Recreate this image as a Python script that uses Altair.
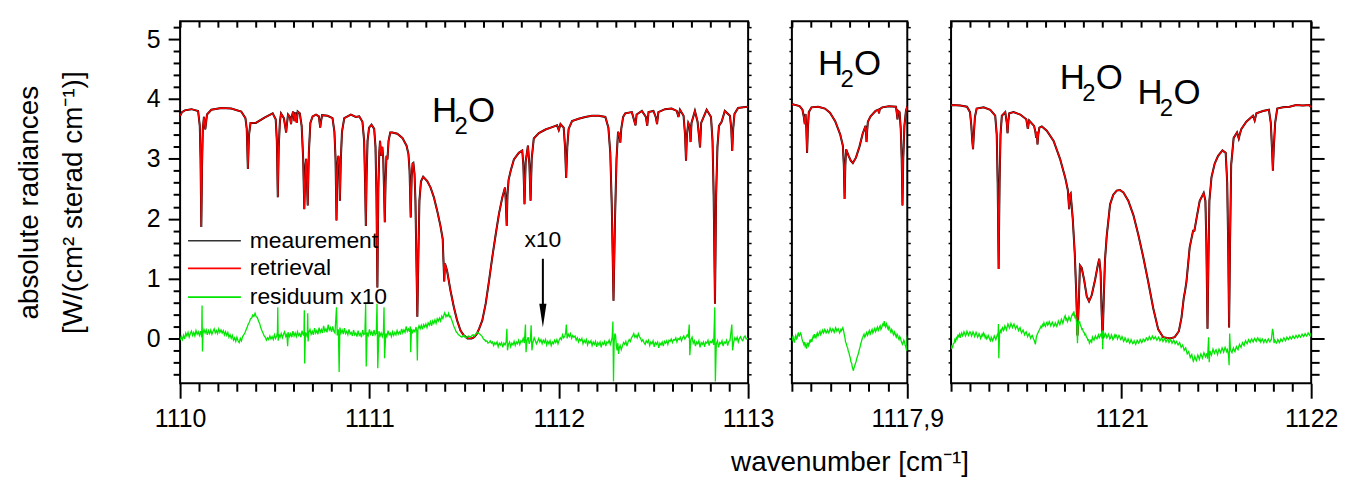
import altair as alt
import pandas as pd

FONT = "Liberation Sans"
RED = "#ff0000"
GREEN = "#00e600"
MEAS = "#000000"

# ---------------- spectra (wavenumber, radiance) ----------------
p1_spectrum = [
    (1110.000, 3.72), (1110.010, 3.78), (1110.025, 3.81), (1110.060, 3.83), (1110.095, 3.80),
    (1110.104, 3.55), (1110.108, 3.00), (1110.112, 1.86), (1110.116, 2.90), (1110.120, 3.50),
    (1110.126, 3.70), (1110.130, 3.58), (1110.133, 3.49), (1110.137, 3.60), (1110.142, 3.74),
    (1110.165, 3.82), (1110.218, 3.85), (1110.270, 3.84), (1110.323, 3.79), (1110.345, 3.68),
    (1110.352, 3.50), (1110.358, 2.83), (1110.364, 3.40), (1110.372, 3.60), (1110.400, 3.60),
    (1110.446, 3.69), (1110.489, 3.76), (1110.505, 3.66), (1110.511, 3.30), (1110.516, 2.36),
    (1110.521, 3.20), (1110.527, 3.62), (1110.533, 3.76), (1110.548, 3.68), (1110.556, 3.52),
    (1110.560, 3.44), (1110.565, 3.60), (1110.570, 3.74), (1110.580, 3.70), (1110.586, 3.58),
    (1110.591, 3.72), (1110.597, 3.79), (1110.604, 3.63), (1110.609, 3.78), (1110.616, 3.60),
    (1110.621, 3.79), (1110.632, 3.76), (1110.642, 3.55), (1110.650, 3.00), (1110.656, 2.16),
    (1110.662, 2.90), (1110.666, 3.00), (1110.674, 2.22), (1110.680, 3.10), (1110.688, 3.60),
    (1110.700, 3.71), (1110.718, 3.74), (1110.733, 3.71), (1110.737, 3.60), (1110.740, 3.52),
    (1110.744, 3.62), (1110.750, 3.73), (1110.779, 3.72), (1110.805, 3.68), (1110.815, 3.45),
    (1110.821, 3.00), (1110.826, 1.97), (1110.831, 2.90), (1110.836, 3.05), (1110.840, 2.90),
    (1110.844, 2.30), (1110.849, 3.00), (1110.855, 3.45), (1110.867, 3.68), (1110.902, 3.74),
    (1110.928, 3.70), (1110.946, 3.71), (1110.963, 3.62), (1110.972, 3.30), (1110.977, 2.60),
    (1110.981, 1.88), (1110.985, 2.70), (1110.990, 3.30), (1110.998, 3.52), (1111.011, 3.57),
    (1111.025, 3.50), (1111.032, 3.20), (1111.037, 2.40), (1111.042, 0.85), (1111.047, 2.50),
    (1111.052, 3.10), (1111.056, 3.30), (1111.062, 3.05), (1111.068, 3.20), (1111.073, 3.00),
    (1111.077, 2.50), (1111.081, 1.94), (1111.085, 2.60), (1111.090, 3.05), (1111.095, 2.99),
    (1111.101, 3.30), (1111.110, 3.44), (1111.121, 3.44), (1111.147, 3.42), (1111.174, 3.35),
    (1111.196, 3.22), (1111.206, 3.08), (1111.212, 2.80), (1111.218, 2.02), (1111.223, 2.70),
    (1111.228, 2.92), (1111.232, 2.93), (1111.238, 2.75), (1111.243, 2.30), (1111.248, 1.30),
    (1111.253, 0.36), (1111.258, 1.30), (1111.264, 2.30), (1111.272, 2.62), (1111.284, 2.70),
    (1111.305, 2.63), (1111.323, 2.52), (1111.340, 2.36), (1111.358, 2.13), (1111.375, 1.88),
    (1111.387, 1.66), (1111.391, 1.30), (1111.395, 0.95), (1111.399, 1.25), (1111.410, 1.13),
    (1111.428, 0.80), (1111.446, 0.52), (1111.463, 0.30), (1111.481, 0.13), (1111.498, 0.05),
    (1111.518, 0.00), (1111.540, 0.00), (1111.553, 0.02), (1111.566, 0.07), (1111.579, 0.16),
    (1111.596, 0.30), (1111.614, 0.58), (1111.632, 0.97), (1111.649, 1.36), (1111.667, 1.74),
    (1111.684, 2.08), (1111.702, 2.36), (1111.716, 2.52), (1111.720, 2.30), (1111.725, 1.88),
    (1111.729, 2.40), (1111.735, 2.65), (1111.746, 2.80), (1111.763, 2.99), (1111.789, 3.10),
    (1111.807, 3.14), (1111.813, 2.90), (1111.819, 2.24), (1111.825, 2.95), (1111.837, 3.22),
    (1111.845, 2.90), (1111.851, 2.30), (1111.857, 3.00), (1111.868, 3.34), (1111.895, 3.43),
    (1111.930, 3.49), (1111.965, 3.53), (1111.991, 3.56), (1112.000, 3.48), (1112.009, 3.58),
    (1112.026, 3.52), (1112.033, 3.20), (1112.039, 2.68), (1112.045, 3.20), (1112.052, 3.50),
    (1112.070, 3.63), (1112.105, 3.67), (1112.140, 3.70), (1112.175, 3.72), (1112.211, 3.72),
    (1112.246, 3.70), (1112.262, 3.52), (1112.272, 3.10), (1112.280, 2.20), (1112.289, 0.63),
    (1112.297, 2.00), (1112.305, 3.00), (1112.313, 3.45), (1112.320, 3.40), (1112.325, 3.27),
    (1112.330, 3.50), (1112.340, 3.70), (1112.351, 3.76), (1112.386, 3.78), (1112.400, 3.62),
    (1112.405, 3.56), (1112.411, 3.74), (1112.439, 3.80), (1112.460, 3.70), (1112.467, 3.55),
    (1112.474, 3.78), (1112.500, 3.80), (1112.512, 3.70), (1112.519, 3.58), (1112.526, 3.78),
    (1112.561, 3.83), (1112.596, 3.84), (1112.623, 3.80), (1112.632, 3.70), (1112.640, 3.82),
    (1112.659, 3.72), (1112.667, 3.40), (1112.672, 2.97), (1112.677, 3.40), (1112.684, 3.60),
    (1112.691, 3.55), (1112.696, 3.28), (1112.701, 3.60), (1112.719, 3.80), (1112.733, 3.62),
    (1112.740, 3.40), (1112.746, 3.19), (1112.752, 3.60), (1112.781, 3.82), (1112.804, 3.70),
    (1112.812, 3.30), (1112.818, 2.40), (1112.825, 0.58), (1112.831, 2.40), (1112.838, 3.20),
    (1112.846, 3.55), (1112.860, 3.62), (1112.877, 3.80), (1112.904, 3.72), (1112.911, 3.50),
    (1112.916, 3.13), (1112.921, 3.50), (1112.928, 3.75), (1112.947, 3.85), (1112.974, 3.86),
    (1113.000, 3.87),
]

p2_spectrum = [
    (1117.300, 3.90), (1117.305, 3.91), (1117.340, 3.88), (1117.355, 3.82), (1117.362, 3.70),
    (1117.367, 3.58), (1117.371, 3.75), (1117.375, 3.50), (1117.379, 3.10), (1117.383, 3.50),
    (1117.388, 3.78), (1117.402, 3.86), (1117.437, 3.87), (1117.472, 3.84), (1117.498, 3.77),
    (1117.525, 3.63), (1117.551, 3.41), (1117.565, 3.22), (1117.570, 2.90), (1117.574, 2.33),
    (1117.578, 2.90), (1117.582, 3.16), (1117.595, 3.05), (1117.606, 2.97), (1117.617, 2.93),
    (1117.633, 3.02), (1117.651, 3.20), (1117.668, 3.42), (1117.683, 3.55), (1117.686, 3.40),
    (1117.688, 3.28), (1117.691, 3.45), (1117.695, 3.62), (1117.709, 3.71), (1117.735, 3.80),
    (1117.750, 3.82), (1117.753, 3.76), (1117.757, 3.83), (1117.770, 3.86), (1117.805, 3.88),
    (1117.841, 3.87), (1117.846, 3.75), (1117.849, 3.66), (1117.853, 3.80), (1117.860, 3.78),
    (1117.866, 3.50), (1117.871, 3.00), (1117.875, 2.22), (1117.879, 3.00), (1117.885, 3.55),
    (1117.893, 3.80), (1117.900, 3.88),
]

p3_spectrum = [
    (1120.100, 3.89), (1120.105, 3.90), (1120.149, 3.89), (1120.184, 3.87), (1120.200, 3.78),
    (1120.207, 3.55), (1120.212, 3.30), (1120.216, 3.16), (1120.220, 3.40), (1120.226, 3.70),
    (1120.235, 3.84), (1120.272, 3.86), (1120.307, 3.82), (1120.333, 3.72), (1120.341, 3.40),
    (1120.346, 2.60), (1120.351, 1.16), (1120.356, 2.60), (1120.361, 3.40), (1120.368, 3.72),
    (1120.386, 3.78), (1120.394, 3.60), (1120.398, 3.43), (1120.402, 3.62), (1120.407, 3.76),
    (1120.430, 3.78), (1120.465, 3.74), (1120.497, 3.66), (1120.505, 3.50), (1120.512, 3.64),
    (1120.538, 3.55), (1120.545, 3.45), (1120.549, 3.35), (1120.553, 3.45), (1120.556, 3.24),
    (1120.560, 3.40), (1120.566, 3.52), (1120.579, 3.54), (1120.605, 3.47), (1120.641, 3.30),
    (1120.675, 3.00), (1120.702, 2.69), (1120.716, 2.48), (1120.720, 2.30), (1120.723, 2.16),
    (1120.727, 2.40), (1120.731, 2.42), (1120.742, 2.00), (1120.753, 1.40), (1120.760, 0.80),
    (1120.767, 0.05), (1120.774, 0.60), (1120.780, 1.22), (1120.789, 1.18), (1120.802, 0.98),
    (1120.816, 0.70), (1120.828, 0.62), (1120.842, 0.72), (1120.860, 0.98), (1120.874, 1.22),
    (1120.882, 1.33), (1120.889, 1.10), (1120.895, 0.40), (1120.900, 0.00), (1120.905, 0.60),
    (1120.912, 1.30), (1120.921, 1.70), (1120.939, 2.24), (1120.956, 2.40), (1120.974, 2.47),
    (1120.991, 2.48), (1121.009, 2.44), (1121.035, 2.30), (1121.062, 2.06), (1121.088, 1.73),
    (1121.114, 1.36), (1121.140, 0.95), (1121.167, 0.50), (1121.193, 0.15), (1121.219, 0.02),
    (1121.254, 0.00), (1121.280, 0.02), (1121.302, 0.12), (1121.316, 0.35), (1121.328, 0.68),
    (1121.335, 0.80), (1121.342, 0.95), (1121.359, 1.52), (1121.377, 1.80), (1121.384, 1.80),
    (1121.395, 2.00), (1121.412, 2.30), (1121.433, 2.43), (1121.442, 2.30), (1121.447, 1.60),
    (1121.453, 0.16), (1121.458, 1.30), (1121.463, 2.30), (1121.474, 2.69), (1121.491, 2.92),
    (1121.509, 3.05), (1121.532, 3.14), (1121.549, 3.10), (1121.557, 2.60), (1121.562, 1.60),
    (1121.567, 0.18), (1121.572, 1.60), (1121.578, 2.90), (1121.591, 3.35), (1121.609, 3.44),
    (1121.618, 3.34), (1121.624, 3.42), (1121.632, 3.50), (1121.658, 3.62), (1121.693, 3.72),
    (1121.702, 3.64), (1121.711, 3.76), (1121.746, 3.80), (1121.777, 3.82), (1121.787, 3.60),
    (1121.793, 3.20), (1121.798, 2.80), (1121.803, 3.20), (1121.810, 3.60), (1121.821, 3.84),
    (1121.851, 3.86), (1121.886, 3.87), (1121.921, 3.90), (1121.956, 3.89), (1121.990, 3.90),
    (1122.000, 3.86),
]

# ---------------- residuum x10 (wavenumber, value) ----------------
p1_residual = [
    (1110.000, -0.03), (1110.006, 0.03), (1110.012, -0.02), (1110.018, 0.05), (1110.024, -0.01),
    (1110.030, 0.09), (1110.036, 0.04), (1110.042, 0.10), (1110.048, 0.02), (1110.054, 0.08),
    (1110.060, 0.12), (1110.066, 0.05), (1110.072, 0.10), (1110.078, 0.04), (1110.084, 0.13),
    (1110.090, 0.07), (1110.096, 0.11), (1110.102, 0.05), (1110.108, 0.12), (1110.114, 0.02),
    (1110.116, 0.55), (1110.118, -0.22), (1110.121, 0.08), (1110.126, 0.15), (1110.132, 0.09),
    (1110.138, 0.14), (1110.144, 0.06), (1110.150, 0.13), (1110.156, 0.08), (1110.162, 0.14),
    (1110.168, 0.07), (1110.174, 0.12), (1110.180, 0.16), (1110.186, 0.09), (1110.192, 0.13),
    (1110.198, 0.08), (1110.204, 0.16), (1110.210, 0.10), (1110.216, 0.14), (1110.222, 0.09),
    (1110.228, 0.13), (1110.234, 0.06), (1110.240, 0.11), (1110.246, 0.05), (1110.252, 0.10),
    (1110.258, 0.02), (1110.264, 0.06), (1110.270, 0.00), (1110.276, 0.05), (1110.282, -0.03),
    (1110.288, 0.01), (1110.294, -0.05), (1110.300, 0.02), (1110.306, -0.04), (1110.312, -0.07),
    (1110.318, 0.00), (1110.324, -0.04), (1110.330, 0.03), (1110.336, 0.06), (1110.342, 0.09),
    (1110.348, 0.14), (1110.354, 0.18), (1110.360, 0.24), (1110.366, 0.27), (1110.372, 0.33),
    (1110.378, 0.34), (1110.384, 0.39), (1110.390, 0.37), (1110.396, 0.42), (1110.402, 0.36),
    (1110.408, 0.35), (1110.414, 0.29), (1110.420, 0.25), (1110.426, 0.18), (1110.432, 0.13),
    (1110.438, 0.09), (1110.444, 0.04), (1110.450, 0.02), (1110.456, -0.03), (1110.462, 0.01),
    (1110.468, -0.02), (1110.474, 0.04), (1110.480, -0.01), (1110.486, 0.03), (1110.492, -0.02),
    (1110.498, 0.06), (1110.504, 0.00), (1110.510, 0.04), (1110.514, 0.10), (1110.516, 0.52),
    (1110.518, -0.04), (1110.522, 0.07), (1110.528, 0.02), (1110.534, 0.08), (1110.540, 0.01),
    (1110.546, 0.07), (1110.552, 0.11), (1110.558, 0.03), (1110.564, 0.07), (1110.568, -0.13),
    (1110.572, 0.10), (1110.578, 0.03), (1110.584, 0.08), (1110.590, 0.02), (1110.596, 0.12),
    (1110.602, 0.04), (1110.608, 0.09), (1110.614, 0.03), (1110.620, 0.11), (1110.626, 0.05),
    (1110.632, 0.08), (1110.638, 0.02), (1110.644, 0.13), (1110.650, 0.06), (1110.654, 0.05),
    (1110.656, 0.47), (1110.658, -0.42), (1110.662, 0.10), (1110.668, 0.06), (1110.672, 0.02),
    (1110.674, 0.42), (1110.676, -0.05), (1110.680, 0.10), (1110.686, 0.15), (1110.692, 0.07),
    (1110.698, 0.12), (1110.704, 0.06), (1110.710, 0.17), (1110.716, 0.09), (1110.722, 0.13),
    (1110.728, 0.07), (1110.734, 0.18), (1110.740, 0.10), (1110.746, 0.15), (1110.752, 0.09),
    (1110.758, 0.21), (1110.764, 0.12), (1110.770, 0.16), (1110.776, 0.10), (1110.782, 0.23),
    (1110.788, 0.14), (1110.794, 0.18), (1110.800, 0.11), (1110.806, 0.20), (1110.812, 0.12),
    (1110.818, 0.09), (1110.826, 0.52), (1110.830, 0.05), (1110.836, 0.15), (1110.840, -0.56),
    (1110.844, 0.18), (1110.850, 0.09), (1110.856, 0.14), (1110.862, 0.07), (1110.868, 0.17),
    (1110.874, 0.08), (1110.880, 0.12), (1110.886, 0.06), (1110.892, 0.15), (1110.898, 0.07),
    (1110.904, 0.10), (1110.910, 0.04), (1110.916, 0.14), (1110.922, 0.06), (1110.928, 0.09),
    (1110.934, 0.03), (1110.940, 0.13), (1110.946, 0.05), (1110.952, 0.08), (1110.958, 0.02),
    (1110.964, 0.14), (1110.970, 0.06), (1110.976, 0.08), (1110.980, 0.58), (1110.983, -0.47),
    (1110.988, 0.10), (1110.994, 0.05), (1111.000, 0.15), (1111.006, 0.07), (1111.012, 0.11),
    (1111.018, 0.04), (1111.024, 0.14), (1111.030, 0.06), (1111.036, 0.09), (1111.040, 0.58),
    (1111.044, -0.50), (1111.050, 0.12), (1111.056, 0.04), (1111.062, 0.09), (1111.068, 0.03),
    (1111.074, 0.11), (1111.077, 0.52), (1111.080, -0.33), (1111.086, 0.08), (1111.092, 0.03),
    (1111.098, 0.13), (1111.104, 0.06), (1111.110, 0.09), (1111.116, 0.03), (1111.122, 0.11),
    (1111.128, 0.05), (1111.134, 0.10), (1111.140, 0.06), (1111.146, 0.13), (1111.152, 0.07),
    (1111.158, 0.11), (1111.164, 0.08), (1111.170, 0.16), (1111.176, 0.09), (1111.182, 0.14),
    (1111.188, 0.10), (1111.194, 0.20), (1111.200, 0.12), (1111.206, 0.16), (1111.212, 0.11),
    (1111.216, 0.20), (1111.218, -0.23), (1111.222, 0.16), (1111.228, 0.10), (1111.234, 0.14),
    (1111.240, 0.11), (1111.246, 0.19), (1111.250, 0.12), (1111.253, -0.37), (1111.256, 0.15),
    (1111.262, 0.21), (1111.268, 0.16), (1111.274, 0.22), (1111.280, 0.15), (1111.286, 0.23),
    (1111.292, 0.19), (1111.298, 0.24), (1111.304, 0.18), (1111.310, 0.26), (1111.316, 0.22),
    (1111.322, 0.28), (1111.328, 0.21), (1111.334, 0.29), (1111.340, 0.25), (1111.346, 0.31),
    (1111.352, 0.25), (1111.358, 0.33), (1111.364, 0.29), (1111.370, 0.34), (1111.376, 0.29),
    (1111.382, 0.37), (1111.388, 0.33), (1111.394, 0.40), (1111.398, 0.43), (1111.404, 0.36),
    (1111.408, 0.39), (1111.414, 0.37), (1111.418, 0.42), (1111.424, 0.36), (1111.428, 0.37),
    (1111.434, 0.31), (1111.440, 0.26), (1111.446, 0.20), (1111.452, 0.16), (1111.458, 0.11),
    (1111.464, 0.09), (1111.470, 0.06), (1111.476, 0.05), (1111.482, 0.03), (1111.488, 0.02),
    (1111.494, 0.04), (1111.500, 0.05), (1111.506, 0.02), (1111.512, 0.01), (1111.518, 0.03),
    (1111.524, 0.04), (1111.530, 0.02), (1111.536, 0.03), (1111.542, 0.05), (1111.548, 0.06),
    (1111.554, 0.04), (1111.560, 0.07), (1111.566, 0.09), (1111.572, 0.10), (1111.578, 0.08),
    (1111.584, 0.07), (1111.590, 0.05), (1111.596, 0.03), (1111.602, -0.01), (1111.608, -0.02),
    (1111.614, -0.05), (1111.620, -0.04), (1111.626, -0.08), (1111.632, -0.07), (1111.638, -0.04),
    (1111.644, -0.08), (1111.650, -0.06), (1111.656, -0.12), (1111.662, -0.07), (1111.668, -0.10),
    (1111.674, -0.06), (1111.680, -0.14), (1111.686, -0.08), (1111.692, -0.11), (1111.698, -0.07),
    (1111.704, -0.15), (1111.710, -0.08), (1111.716, -0.11), (1111.722, -0.05), (1111.726, 0.16),
    (1111.729, -0.20), (1111.734, -0.10), (1111.740, -0.06), (1111.746, -0.14), (1111.752, -0.08),
    (1111.758, -0.11), (1111.764, -0.05), (1111.770, -0.12), (1111.776, -0.06), (1111.782, -0.09),
    (1111.788, -0.03), (1111.794, -0.10), (1111.800, -0.04), (1111.806, -0.06), (1111.812, 0.00),
    (1111.818, -0.08), (1111.824, 0.23), (1111.827, -0.23), (1111.832, -0.04), (1111.838, 0.02),
    (1111.844, -0.09), (1111.850, -0.03), (1111.854, 0.22), (1111.858, -0.20), (1111.864, -0.06),
    (1111.870, 0.01), (1111.876, -0.04), (1111.882, -0.09), (1111.888, -0.05), (1111.894, 0.00),
    (1111.900, -0.06), (1111.906, -0.02), (1111.912, -0.09), (1111.918, -0.03), (1111.924, -0.07),
    (1111.930, -0.02), (1111.936, -0.11), (1111.942, -0.05), (1111.948, -0.09), (1111.954, -0.04),
    (1111.960, -0.12), (1111.966, -0.06), (1111.972, -0.09), (1111.978, -0.03), (1111.984, -0.07),
    (1111.990, -0.02), (1111.996, -0.09), (1112.002, -0.03), (1112.008, 0.01), (1112.014, -0.02),
    (1112.020, 0.06), (1112.026, 0.01), (1112.032, 0.04), (1112.036, 0.09), (1112.040, 0.23),
    (1112.044, 0.00), (1112.050, 0.07), (1112.056, 0.03), (1112.062, 0.08), (1112.068, 0.00),
    (1112.074, 0.05), (1112.080, 0.02), (1112.086, 0.04), (1112.092, -0.03), (1112.098, 0.01),
    (1112.104, -0.06), (1112.110, -0.01), (1112.116, -0.04), (1112.122, 0.00), (1112.128, -0.09),
    (1112.134, -0.03), (1112.140, -0.07), (1112.146, -0.02), (1112.152, -0.11), (1112.158, -0.05),
    (1112.164, -0.08), (1112.170, -0.04), (1112.176, -0.12), (1112.182, -0.06), (1112.188, -0.10),
    (1112.194, -0.05), (1112.200, -0.14), (1112.206, -0.07), (1112.212, -0.11), (1112.218, -0.06),
    (1112.224, -0.15), (1112.230, -0.07), (1112.236, -0.10), (1112.242, -0.05), (1112.248, -0.13),
    (1112.254, -0.06), (1112.260, -0.08), (1112.266, -0.03), (1112.272, -0.10), (1112.278, -0.04),
    (1112.282, 0.02), (1112.286, 0.28), (1112.289, -0.72), (1112.292, -0.10), (1112.296, 0.08),
    (1112.300, 0.05), (1112.304, -0.12), (1112.308, -0.20), (1112.312, -0.08), (1112.316, -0.26),
    (1112.320, -0.15), (1112.324, -0.12), (1112.330, -0.19), (1112.336, -0.13), (1112.342, -0.07),
    (1112.348, -0.10), (1112.354, -0.05), (1112.360, -0.13), (1112.366, -0.06), (1112.372, -0.02),
    (1112.378, -0.05), (1112.384, 0.01), (1112.390, 0.04), (1112.396, 0.08), (1112.402, 0.02),
    (1112.408, 0.05), (1112.414, 0.01), (1112.420, 0.08), (1112.426, 0.03), (1112.432, 0.00),
    (1112.438, -0.05), (1112.444, -0.02), (1112.450, -0.07), (1112.456, -0.10), (1112.462, -0.04),
    (1112.468, -0.07), (1112.474, -0.03), (1112.480, -0.12), (1112.486, -0.06), (1112.492, -0.09),
    (1112.498, -0.04), (1112.504, -0.14), (1112.510, -0.07), (1112.516, -0.10), (1112.522, -0.06),
    (1112.528, -0.16), (1112.534, -0.08), (1112.540, -0.11), (1112.546, -0.06), (1112.552, -0.13),
    (1112.558, -0.05), (1112.564, -0.08), (1112.570, -0.04), (1112.576, -0.10), (1112.582, -0.03),
    (1112.588, -0.05), (1112.594, -0.01), (1112.600, -0.07), (1112.606, -0.02), (1112.612, -0.03),
    (1112.618, 0.01), (1112.624, -0.06), (1112.630, 0.00), (1112.636, -0.02), (1112.642, 0.02),
    (1112.648, -0.04), (1112.654, 0.01), (1112.660, 0.04), (1112.666, -0.01), (1112.672, 0.02),
    (1112.678, 0.06), (1112.684, 0.03), (1112.689, 0.23), (1112.692, -0.28), (1112.698, -0.02),
    (1112.704, 0.02), (1112.710, -0.08), (1112.716, -0.04), (1112.722, -0.13), (1112.728, -0.06),
    (1112.734, -0.09), (1112.740, -0.04), (1112.746, -0.15), (1112.752, -0.07), (1112.758, -0.10),
    (1112.764, -0.06), (1112.770, -0.14), (1112.776, -0.06), (1112.782, -0.08), (1112.788, -0.03),
    (1112.794, -0.12), (1112.800, -0.05), (1112.806, -0.07), (1112.812, -0.03), (1112.818, -0.11),
    (1112.824, 0.52), (1112.827, -0.72), (1112.832, -0.09), (1112.838, -0.04), (1112.844, -0.15),
    (1112.850, -0.07), (1112.856, -0.09), (1112.862, -0.04), (1112.868, -0.13), (1112.874, -0.06),
    (1112.880, -0.08), (1112.886, -0.03), (1112.892, -0.12), (1112.898, -0.05), (1112.904, -0.04),
    (1112.914, 0.23), (1112.918, -0.20), (1112.924, -0.06), (1112.930, 0.01), (1112.936, -0.03),
    (1112.942, 0.02), (1112.948, -0.06), (1112.954, 0.00), (1112.960, 0.03), (1112.966, -0.02),
    (1112.972, -0.04), (1112.978, 0.02), (1112.984, 0.04), (1112.990, -0.01), (1113.000, 0.00),
]

p2_residual = [
    (1117.300, -0.05), (1117.303, 0.01), (1117.306, 0.03), (1117.310, -0.04), (1117.313, -0.07),
    (1117.317, 0.02), (1117.320, 0.05), (1117.324, -0.01), (1117.327, 0.00), (1117.331, 0.07),
    (1117.334, 0.10), (1117.338, 0.03), (1117.341, 0.06), (1117.345, 0.09), (1117.348, 0.07),
    (1117.352, 0.00), (1117.355, -0.04), (1117.359, -0.07), (1117.362, -0.10), (1117.366, -0.06),
    (1117.369, -0.13), (1117.373, -0.10), (1117.376, -0.17), (1117.380, -0.11), (1117.383, -0.07),
    (1117.387, -0.12), (1117.390, -0.09), (1117.394, -0.02), (1117.397, -0.05), (1117.401, -0.01),
    (1117.404, -0.06), (1117.408, 0.01), (1117.411, 0.04), (1117.415, 0.00), (1117.418, 0.07),
    (1117.422, 0.03), (1117.425, 0.01), (1117.429, 0.06), (1117.432, 0.09), (1117.436, 0.04),
    (1117.439, 0.06), (1117.443, 0.10), (1117.446, 0.12), (1117.450, 0.06), (1117.453, 0.08),
    (1117.457, 0.12), (1117.460, 0.14), (1117.464, 0.09), (1117.467, 0.11), (1117.471, 0.15),
    (1117.474, 0.13), (1117.478, 0.09), (1117.481, 0.10), (1117.485, 0.14), (1117.488, 0.12),
    (1117.492, 0.09), (1117.495, 0.12), (1117.499, 0.17), (1117.502, 0.15), (1117.506, 0.11),
    (1117.509, 0.13), (1117.513, 0.16), (1117.516, 0.14), (1117.520, 0.10), (1117.523, 0.12),
    (1117.527, 0.18), (1117.530, 0.16), (1117.534, 0.12), (1117.537, 0.14), (1117.541, 0.16),
    (1117.544, 0.13), (1117.548, 0.09), (1117.551, 0.11), (1117.555, 0.15), (1117.558, 0.13),
    (1117.562, 0.16), (1117.565, 0.18), (1117.569, 0.12), (1117.572, 0.07), (1117.576, 0.01),
    (1117.579, -0.06), (1117.583, -0.09), (1117.586, -0.13), (1117.590, -0.16), (1117.593, -0.21),
    (1117.597, -0.24), (1117.600, -0.29), (1117.604, -0.33), (1117.607, -0.39), (1117.611, -0.42),
    (1117.614, -0.48), (1117.617, -0.51), (1117.620, -0.54), (1117.623, -0.49), (1117.626, -0.47),
    (1117.630, -0.42), (1117.633, -0.40), (1117.637, -0.34), (1117.640, -0.31), (1117.644, -0.27),
    (1117.647, -0.24), (1117.651, -0.18), (1117.654, -0.15), (1117.658, -0.09), (1117.661, -0.06),
    (1117.665, -0.01), (1117.668, 0.01), (1117.672, 0.05), (1117.675, 0.07), (1117.679, 0.02),
    (1117.682, 0.04), (1117.686, 0.08), (1117.689, 0.10), (1117.693, 0.05), (1117.696, 0.07),
    (1117.700, 0.11), (1117.703, 0.13), (1117.707, 0.07), (1117.710, 0.09), (1117.714, 0.13),
    (1117.717, 0.15), (1117.721, 0.09), (1117.724, 0.11), (1117.728, 0.15), (1117.731, 0.17),
    (1117.735, 0.11), (1117.738, 0.13), (1117.742, 0.17), (1117.745, 0.19), (1117.749, 0.13),
    (1117.752, 0.15), (1117.756, 0.19), (1117.759, 0.21), (1117.763, 0.15), (1117.766, 0.17),
    (1117.770, 0.21), (1117.773, 0.24), (1117.777, 0.22), (1117.780, 0.29), (1117.784, 0.21),
    (1117.787, 0.19), (1117.791, 0.25), (1117.794, 0.23), (1117.798, 0.17), (1117.801, 0.15),
    (1117.805, 0.20), (1117.808, 0.18), (1117.812, 0.12), (1117.815, 0.10), (1117.819, 0.15),
    (1117.822, 0.13), (1117.826, 0.08), (1117.829, 0.06), (1117.833, 0.11), (1117.836, 0.09),
    (1117.840, 0.04), (1117.843, 0.02), (1117.847, 0.07), (1117.850, 0.05), (1117.854, 0.00),
    (1117.857, -0.02), (1117.861, 0.03), (1117.864, 0.01), (1117.868, -0.04), (1117.871, -0.07),
    (1117.875, -0.10), (1117.878, -0.08), (1117.882, -0.03), (1117.885, -0.05), (1117.889, -0.11),
    (1117.892, -0.14), (1117.895, -0.18), (1117.897, -0.21), (1117.900, 0.05),
]

p3_residual = [
    (1120.100, -0.18), (1120.104, -0.13), (1120.108, -0.15), (1120.112, -0.09), (1120.116, -0.08),
    (1120.120, -0.02), (1120.124, -0.05), (1120.128, 0.01), (1120.132, -0.01), (1120.136, 0.05),
    (1120.140, 0.03), (1120.144, 0.07), (1120.148, 0.01), (1120.152, 0.06), (1120.156, 0.09),
    (1120.160, 0.04), (1120.164, 0.06), (1120.168, 0.11), (1120.172, 0.08), (1120.176, 0.04),
    (1120.180, 0.07), (1120.184, 0.12), (1120.188, 0.09), (1120.192, 0.05), (1120.196, 0.08),
    (1120.200, 0.11), (1120.204, 0.09), (1120.208, 0.04), (1120.212, 0.07), (1120.216, 0.11),
    (1120.220, 0.08), (1120.224, 0.03), (1120.228, 0.06), (1120.232, 0.10), (1120.236, 0.07),
    (1120.240, 0.02), (1120.244, 0.04), (1120.248, 0.08), (1120.252, 0.05), (1120.256, 0.00),
    (1120.260, 0.03), (1120.264, 0.07), (1120.268, 0.04), (1120.272, 0.09), (1120.276, 0.06),
    (1120.280, 0.01), (1120.284, 0.04), (1120.288, -0.01), (1120.292, 0.01), (1120.296, 0.05),
    (1120.300, 0.02), (1120.304, -0.02), (1120.308, -0.04), (1120.312, 0.02), (1120.316, -0.01),
    (1120.320, -0.04), (1120.324, 0.00), (1120.328, 0.04), (1120.332, 0.01), (1120.336, -0.02),
    (1120.340, 0.02), (1120.344, 0.06), (1120.348, 0.03), (1120.350, 0.24), (1120.352, -0.33),
    (1120.356, 0.08), (1120.360, 0.13), (1120.364, 0.10), (1120.368, 0.16), (1120.372, 0.18),
    (1120.376, 0.13), (1120.380, 0.15), (1120.384, 0.21), (1120.388, 0.18), (1120.392, 0.14),
    (1120.396, 0.19), (1120.400, 0.24), (1120.404, 0.21), (1120.408, 0.17), (1120.412, 0.20),
    (1120.416, 0.25), (1120.420, 0.22), (1120.424, 0.18), (1120.428, 0.21), (1120.432, 0.24),
    (1120.436, 0.20), (1120.440, 0.16), (1120.444, 0.19), (1120.448, 0.21), (1120.452, 0.17),
    (1120.456, 0.13), (1120.460, 0.16), (1120.464, 0.18), (1120.468, 0.13), (1120.472, 0.09),
    (1120.476, 0.12), (1120.480, 0.14), (1120.484, 0.10), (1120.488, 0.06), (1120.492, 0.09),
    (1120.496, 0.11), (1120.500, 0.07), (1120.504, 0.03), (1120.508, 0.06), (1120.512, 0.08),
    (1120.516, 0.04), (1120.520, 0.00), (1120.524, 0.03), (1120.528, 0.05), (1120.532, 0.02),
    (1120.536, -0.02), (1120.540, -0.04), (1120.545, -0.10), (1120.550, 0.02), (1120.554, 0.06),
    (1120.558, 0.09), (1120.562, 0.12), (1120.566, 0.14), (1120.570, 0.17), (1120.574, 0.20),
    (1120.578, 0.18), (1120.582, 0.23), (1120.586, 0.21), (1120.590, 0.26), (1120.594, 0.22),
    (1120.598, 0.20), (1120.602, 0.25), (1120.606, 0.27), (1120.610, 0.22), (1120.614, 0.24),
    (1120.618, 0.28), (1120.622, 0.25), (1120.626, 0.21), (1120.630, 0.24), (1120.634, 0.27),
    (1120.638, 0.24), (1120.642, 0.20), (1120.646, 0.22), (1120.650, 0.26), (1120.654, 0.23),
    (1120.658, 0.20), (1120.662, 0.24), (1120.666, 0.29), (1120.670, 0.26), (1120.674, 0.23),
    (1120.678, 0.27), (1120.682, 0.32), (1120.686, 0.29), (1120.690, 0.25), (1120.694, 0.30),
    (1120.698, 0.35), (1120.702, 0.38), (1120.706, 0.31), (1120.710, 0.33), (1120.714, 0.28),
    (1120.718, 0.31), (1120.722, 0.36), (1120.726, 0.33), (1120.730, 0.30), (1120.734, 0.35),
    (1120.738, 0.39), (1120.742, 0.41), (1120.745, 0.38), (1120.748, 0.45), (1120.751, 0.39),
    (1120.754, 0.35), (1120.757, 0.37), (1120.760, 0.32), (1120.764, 0.20), (1120.767, -0.08),
    (1120.770, 0.18), (1120.773, 0.30), (1120.776, 0.26), (1120.779, 0.27), (1120.782, 0.22),
    (1120.786, 0.20), (1120.790, 0.15), (1120.794, 0.16), (1120.798, 0.11), (1120.802, 0.10),
    (1120.806, 0.06), (1120.810, 0.07), (1120.814, 0.02), (1120.818, 0.01), (1120.822, -0.03),
    (1120.826, -0.02), (1120.830, -0.08), (1120.834, -0.05), (1120.838, -0.03), (1120.842, -0.06),
    (1120.846, 0.02), (1120.850, -0.01), (1120.854, -0.03), (1120.858, 0.01), (1120.862, 0.04),
    (1120.866, 0.00), (1120.870, -0.01), (1120.874, 0.03), (1120.878, 0.06), (1120.882, 0.01),
    (1120.886, 0.03), (1120.890, 0.07), (1120.894, 0.09), (1120.898, 0.11), (1120.900, -0.18),
    (1120.903, 0.13), (1120.906, 0.06), (1120.910, 0.03), (1120.914, 0.08), (1120.918, 0.06),
    (1120.922, 0.01), (1120.926, 0.03), (1120.930, 0.07), (1120.934, 0.04), (1120.938, -0.01),
    (1120.942, 0.01), (1120.946, 0.06), (1120.950, 0.03), (1120.954, -0.02), (1120.958, 0.00),
    (1120.962, 0.05), (1120.966, 0.02), (1120.970, 0.06), (1120.974, 0.04), (1120.978, -0.01),
    (1120.982, 0.02), (1120.986, 0.05), (1120.990, 0.03), (1120.994, -0.02), (1120.998, -0.01),
    (1121.002, 0.03), (1121.006, 0.00), (1121.010, -0.05), (1121.014, -0.03), (1121.018, 0.01),
    (1121.022, -0.02), (1121.026, -0.06), (1121.030, -0.05), (1121.034, -0.01), (1121.038, -0.04),
    (1121.042, -0.08), (1121.046, -0.06), (1121.050, -0.02), (1121.054, -0.05), (1121.058, -0.09),
    (1121.062, -0.08), (1121.066, -0.04), (1121.070, -0.07), (1121.074, -0.10), (1121.078, -0.07),
    (1121.082, -0.03), (1121.086, -0.05), (1121.090, -0.08), (1121.094, -0.06), (1121.098, -0.02),
    (1121.102, -0.04), (1121.106, -0.07), (1121.110, -0.05), (1121.114, -0.01), (1121.118, -0.02),
    (1121.122, -0.05), (1121.126, -0.03), (1121.130, 0.01), (1121.134, 0.00), (1121.138, -0.03),
    (1121.142, -0.01), (1121.146, 0.03), (1121.150, 0.01), (1121.154, -0.02), (1121.158, 0.00),
    (1121.162, 0.04), (1121.166, 0.02), (1121.170, -0.01), (1121.174, 0.01), (1121.178, 0.03),
    (1121.182, 0.00), (1121.186, -0.03), (1121.190, -0.01), (1121.194, 0.02), (1121.198, 0.00),
    (1121.202, -0.04), (1121.206, -0.02), (1121.210, 0.01), (1121.214, -0.01), (1121.218, -0.05),
    (1121.222, -0.03), (1121.226, 0.00), (1121.230, -0.02), (1121.234, -0.06), (1121.238, -0.04),
    (1121.242, -0.01), (1121.246, -0.03), (1121.250, -0.07), (1121.254, -0.05), (1121.258, -0.02),
    (1121.262, -0.04), (1121.266, -0.08), (1121.270, -0.06), (1121.274, -0.03), (1121.278, -0.05),
    (1121.282, -0.09), (1121.286, -0.07), (1121.290, -0.05), (1121.294, -0.08), (1121.298, -0.11),
    (1121.302, -0.09), (1121.306, -0.07), (1121.310, -0.11), (1121.314, -0.15), (1121.318, -0.13),
    (1121.322, -0.11), (1121.326, -0.15), (1121.330, -0.20), (1121.334, -0.18), (1121.338, -0.16),
    (1121.342, -0.21), (1121.346, -0.26), (1121.350, -0.24), (1121.354, -0.22), (1121.358, -0.27),
    (1121.362, -0.32), (1121.366, -0.29), (1121.370, -0.27), (1121.374, -0.33), (1121.378, -0.38),
    (1121.382, -0.35), (1121.386, -0.30), (1121.390, -0.34), (1121.394, -0.37), (1121.398, -0.33),
    (1121.402, -0.28), (1121.406, -0.31), (1121.410, -0.35), (1121.414, -0.30), (1121.418, -0.26),
    (1121.422, -0.29), (1121.426, -0.33), (1121.430, -0.29), (1121.434, -0.24), (1121.438, -0.27),
    (1121.442, -0.31), (1121.446, -0.28), (1121.450, -0.25), (1121.453, -0.34), (1121.459, 0.02),
    (1121.462, -0.40), (1121.466, -0.21), (1121.470, -0.25), (1121.474, -0.28), (1121.478, -0.23),
    (1121.482, -0.18), (1121.486, -0.22), (1121.490, -0.25), (1121.494, -0.21), (1121.498, -0.19),
    (1121.502, -0.23), (1121.506, -0.27), (1121.510, -0.22), (1121.514, -0.18), (1121.518, -0.21),
    (1121.522, -0.24), (1121.526, -0.20), (1121.530, -0.16), (1121.534, -0.19), (1121.538, -0.23),
    (1121.542, -0.19), (1121.546, -0.15), (1121.550, -0.18), (1121.554, -0.22), (1121.558, -0.19),
    (1121.564, -0.28), (1121.567, -0.45), (1121.570, 0.08), (1121.574, -0.18), (1121.578, -0.22),
    (1121.582, -0.24), (1121.586, -0.19), (1121.590, -0.16), (1121.594, -0.20), (1121.598, -0.22),
    (1121.602, -0.17), (1121.606, -0.14), (1121.610, -0.17), (1121.614, -0.19), (1121.618, -0.14),
    (1121.622, -0.10), (1121.626, -0.13), (1121.630, -0.15), (1121.634, -0.10), (1121.638, -0.07),
    (1121.642, -0.10), (1121.646, -0.12), (1121.650, -0.07), (1121.654, -0.04), (1121.658, -0.07),
    (1121.662, -0.09), (1121.666, -0.05), (1121.670, -0.02), (1121.674, -0.05), (1121.678, -0.07),
    (1121.682, -0.03), (1121.686, -0.01), (1121.690, -0.04), (1121.694, -0.06), (1121.698, -0.02),
    (1121.702, 0.00), (1121.706, -0.03), (1121.710, -0.05), (1121.714, -0.01), (1121.718, 0.01),
    (1121.722, -0.02), (1121.726, -0.04), (1121.730, -0.01), (1121.734, -0.06), (1121.738, -0.03),
    (1121.742, -0.01), (1121.746, -0.04), (1121.750, -0.07), (1121.754, -0.03), (1121.758, -0.02),
    (1121.762, -0.05), (1121.766, -0.07), (1121.770, -0.03), (1121.774, -0.01), (1121.778, -0.04),
    (1121.782, -0.06), (1121.786, -0.03), (1121.790, -0.02), (1121.796, 0.16), (1121.800, 0.10),
    (1121.804, -0.08), (1121.808, -0.03), (1121.812, -0.05), (1121.816, -0.08), (1121.820, -0.06),
    (1121.824, -0.02), (1121.828, -0.04), (1121.832, -0.07), (1121.836, -0.05), (1121.840, -0.01),
    (1121.844, -0.03), (1121.848, -0.05), (1121.852, -0.02), (1121.856, 0.01), (1121.860, -0.01),
    (1121.864, -0.04), (1121.868, -0.02), (1121.872, 0.02), (1121.876, 0.00), (1121.880, -0.02),
    (1121.884, 0.00), (1121.888, 0.03), (1121.892, 0.01), (1121.896, -0.01), (1121.900, 0.01),
    (1121.904, 0.04), (1121.908, 0.02), (1121.912, 0.00), (1121.916, 0.02), (1121.920, 0.05),
    (1121.924, 0.03), (1121.928, 0.01), (1121.932, 0.03), (1121.936, 0.06), (1121.940, 0.04),
    (1121.944, 0.02), (1121.948, 0.04), (1121.952, 0.07), (1121.956, 0.05), (1121.960, 0.03),
    (1121.964, 0.05), (1121.968, 0.08), (1121.972, 0.06), (1121.976, 0.04), (1121.980, 0.06),
    (1121.984, 0.09), (1121.988, 0.07), (1121.992, 0.05), (1121.996, 0.07), (1122.000, 0.02),
]

# ---------------- annotations ----------------
h2o_p1 = {"wn": [1111.51], "val": [3.80]}
h2o_p2 = {"wn": [1117.613], "val": [4.59]}
h2o_p3 = {"wn": [1120.853, 1121.263], "val": [4.35, 4.10]}
H2O_PARTS = ["H", "2", "O"]

legend_labels = ["meaurement", "retrieval", "residuum x10"]
legend_colors = ["#333333", RED, GREEN]
legend_y = [1.63, 1.17, 0.69]
legend_x0 = [1110.042, 1110.042, 1110.042]
legend_x1 = [1110.321, 1110.321, 1110.321]
legend_text_x = [1110.368, 1110.368, 1110.368]

arrow_wn = [1111.916]
arrow_top = [1.33]
arrow_bottom = [0.50]
arrow_head_y = [0.38]
x10_label = {"wn": [1111.916], "val": [1.64], "txt": ["x10"]}

# ---------------- axes / ticks ----------------
Y_DOMAIN = [-0.75, 5.3]
Y_MAJOR = [0, 1, 2, 3, 4, 5]
Y_MINOR = [-0.6, -0.4, -0.2, 0.2, 0.4, 0.6, 0.8, 1.2, 1.4, 1.6, 1.8, 2.2, 2.4, 2.6, 2.8,
           3.2, 3.4, 3.6, 3.8, 4.2, 4.4, 4.6, 4.8, 5.2]
Y_ALL = sorted(Y_MAJOR + Y_MINOR)

P1_DOMAIN = [1110, 1113]
P2_DOMAIN = [1117.3, 1117.9]
P3_DOMAIN = [1120.1, 1122]

P1_MAJOR = [1110, 1111, 1112, 1113]
P3_MAJOR = [1121, 1122]
P2_MAJOR = [1117.9]
P2_LABEL = "1117,9"
X_TITLE = "wavenumber [cm\u207b\u00b9]"
Y_TITLE = ["absolute radiances", "[W/(cm\u00b2 sterad cm\u207b\u00b9)]"]


def tenth_steps(lo, hi):
    n = int(round((hi - lo) * 10))
    return [round(lo + i / 10, 1) for i in range(n + 1)]


P1_TENTHS = tenth_steps(1110, 1113)
P2_TENTHS = tenth_steps(1117.3, 1117.9)
P3_TENTHS = tenth_steps(1120.1, 1122)

HEIGHT = 364
TICK_FONT = 25


def bottom_major(values, label_expr=None, title=None):
    kw = dict(orient="bottom", values=values, tickSize=15, tickWidth=2, labelPadding=8,
              labelFlush=False, labelFontSize=TICK_FONT, domain=False, grid=False, title=title,
              labelOverlap=False, format="d")
    if label_expr is not None:
        kw["labelExpr"] = label_expr
    if title is not None:
        kw.update(titleFontSize=28, titlePadding=18)
    return alt.Axis(**kw)


def bottom_minor(values):
    return alt.Axis(orient="bottom", values=values, tickSize=8, tickWidth=2, labels=False,
                    domain=False, grid=False, title=None)


def top_inward(values):
    return alt.Axis(orient="top", values=values, tickSize=6, tickWidth=2, labels=False,
                    domain=False, grid=False, title=None, offset=-6)


def y_axis(orient, values, size, labels=False, title=None, width=2):
    kw = dict(orient=orient, values=values, tickSize=size, tickWidth=width, labels=labels,
              domain=False, grid=False, title=title)
    if labels:
        kw.update(labelFontSize=TICK_FONT, labelPadding=8)
    if title is not None:
        kw.update(titleFontSize=28, titlePadding=59, titleLineHeight=44)
    return alt.Axis(**kw)


def panel(spec_rows, res_rows, dom, width, xaxes, yaxes, extras_fn):
    spec = pd.DataFrame(spec_rows, columns=["wn", "val"])
    res = pd.DataFrame(res_rows, columns=["wn", "val"])
    xs = alt.Scale(domain=dom, nice=False, zero=False)
    ys = alt.Scale(domain=Y_DOMAIN, nice=False, zero=False)

    meas = alt.Chart(spec).mark_line(color=MEAS, strokeWidth=2.0, clip=True).encode(
        x=alt.X("wn:Q", scale=xs, axis=xaxes[0]),
        y=alt.Y("val:Q", scale=ys, axis=yaxes[0]),
    )
    retr = alt.Chart(spec).mark_line(color=RED, strokeWidth=1.4, clip=True).encode(
        x=alt.X("wn:Q", scale=xs, axis=xaxes[1]),
        y=alt.Y("val:Q", scale=ys, axis=yaxes[1]),
    )
    resid = alt.Chart(res).mark_line(color=GREEN, strokeWidth=1.3, clip=True).encode(
        x=alt.X("wn:Q", scale=xs, axis=xaxes[2]),
        y=alt.Y("val:Q", scale=ys, axis=yaxes[2]),
    )
    layers = [meas, retr, resid] + extras_fn(xs, ys)
    return alt.layer(*layers).resolve_axis(x="independent", y="independent").properties(
        width=width, height=HEIGHT)


def h2o_layers(d, xs, ys):
    df = pd.DataFrame(d)
    enc = dict(x=alt.X("wn:Q", scale=xs, axis=None), y=alt.Y("val:Q", scale=ys, axis=None))
    h = alt.Chart(df).mark_text(text=H2O_PARTS[0], fontSize=35, align="right",
                                baseline="middle", dx=-9, color="black").encode(**enc)
    two = alt.Chart(df).mark_text(text=H2O_PARTS[1], fontSize=24, align="center",
                                  baseline="middle", dx=-5, dy=16, color="black").encode(**enc)
    o = alt.Chart(df).mark_text(text=H2O_PARTS[2], fontSize=35, align="left",
                                baseline="middle", dx=2, color="black").encode(**enc)
    return [h, two, o]


def p1_extras(xs, ys):
    leg = pd.DataFrame({"label": legend_labels, "y": legend_y, "x0": legend_x0,
                        "x1": legend_x1, "tx": legend_text_x})
    cscale = alt.Scale(domain=legend_labels, range=legend_colors)
    leg_lines = alt.Chart(leg).mark_rule(strokeWidth=1.6).encode(
        x=alt.X("x0:Q", scale=xs, axis=None), x2="x1:Q",
        y=alt.Y("y:Q", scale=ys, axis=None),
        color=alt.Color("label:N", scale=cscale, legend=None),
    )
    leg_text = alt.Chart(leg).mark_text(fontSize=23, align="left", baseline="middle",
                                        color="black").encode(
        x=alt.X("tx:Q", scale=xs, axis=None),
        y=alt.Y("y:Q", scale=ys, axis=None),
        text="label:N",
    )
    arr = pd.DataFrame({"wn": arrow_wn, "top": arrow_top, "bot": arrow_bottom, "hy": arrow_head_y})
    arrow_line = alt.Chart(arr).mark_rule(strokeWidth=2, color="black").encode(
        x=alt.X("wn:Q", scale=xs, axis=None),
        y=alt.Y("top:Q", scale=ys, axis=None), y2="bot:Q",
    )
    arrow_head = alt.Chart(arr).mark_point(shape="M-0.3,-1L0.3,-1L0,1Z", filled=True, size=576,
                                           color="black", opacity=1).encode(
        x=alt.X("wn:Q", scale=xs, axis=None),
        y=alt.Y("hy:Q", scale=ys, axis=None),
    )
    x10 = alt.Chart(pd.DataFrame(x10_label)).mark_text(fontSize=23, align="center",
                                                       baseline="middle", color="black").encode(
        x=alt.X("wn:Q", scale=xs, axis=None),
        y=alt.Y("val:Q", scale=ys, axis=None),
        text="txt:N",
    )
    return h2o_layers(h2o_p1, xs, ys) + [leg_lines, leg_text, arrow_line, arrow_head, x10]


def p2_extras(xs, ys):
    return h2o_layers(h2o_p2, xs, ys)


def p3_extras(xs, ys):
    return h2o_layers(h2o_p3, xs, ys)


p1_minor = [v for v in P1_TENTHS if v not in P1_MAJOR]
p2_minor = [v for v in P2_TENTHS if v not in P2_MAJOR]
p3_minor = [v for v in P3_TENTHS if v not in P3_MAJOR]

panel1 = panel(
    p1_spectrum, p1_residual, P1_DOMAIN, 571,
    [bottom_major(P1_MAJOR), bottom_minor(p1_minor), top_inward(P1_TENTHS)],
    [y_axis("left", Y_MAJOR, 12, labels=True, title=Y_TITLE), y_axis("left", Y_MINOR, 7),
     y_axis("right", Y_ALL, 3, width=1.5)],
    p1_extras,
)
panel2 = panel(
    p2_spectrum, p2_residual, P2_DOMAIN, 116,
    [bottom_major(P2_MAJOR, label_expr="'" + P2_LABEL + "'", title=X_TITLE),
     bottom_minor(p2_minor), top_inward(P2_TENTHS)],
    [y_axis("left", Y_ALL, 3, width=1.5), y_axis("right", Y_ALL, 3, width=1.5), None],
    p2_extras,
)
panel3 = panel(
    p3_spectrum, p3_residual, P3_DOMAIN, 362,
    [bottom_major(P3_MAJOR), bottom_minor(p3_minor), top_inward(P3_TENTHS)],
    [y_axis("left", Y_ALL, 3, width=1.5), y_axis("right", Y_MAJOR, 13),
     y_axis("right", Y_MINOR, 8)],
    p3_extras,
)

chart = alt.hconcat(panel1, panel2, panel3, spacing=44, bounds="flush").properties(
    padding={"left": 7, "top": 10, "right": 4, "bottom": 2}
).configure(font=FONT).configure_view(stroke="black", strokeWidth=2).configure_axis(
    labelFont=FONT, titleFont=FONT, labelColor="black", titleColor="black", tickColor="black",
    titleFontWeight="normal",
)

chart.save("out.html", embed_options={"renderer": "svg", "actions": False})
